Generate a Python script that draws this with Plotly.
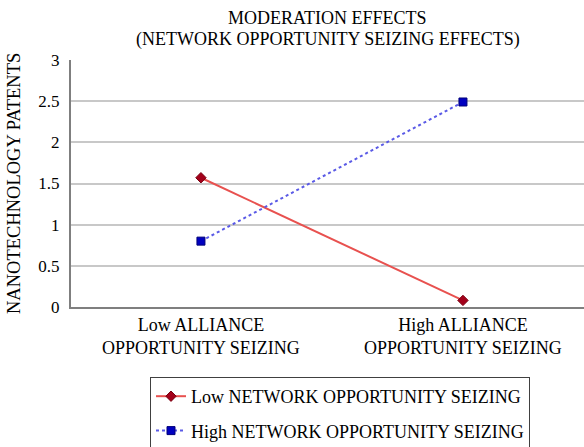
import plotly.graph_objects as go

categories = ["Low ALLIANCE<br>OPPORTUNITY SEIZING", "High ALLIANCE<br>OPPORTUNITY SEIZING"]
low_network = [1.57, 0.08]
high_network = [0.80, 2.49]
series_names = ["Low NETWORK OPPORTUNITY SEIZING", "High NETWORK OPPORTUNITY SEIZING"]
y_ticks = [0, 0.5, 1, 1.5, 2, 2.5, 3]
y_tick_labels = ["0", "0.5", "1", "1.5", "2", "2.5", "3"]
title_lines = ["MODERATION EFFECTS", "(NETWORK OPPORTUNITY SEIZING EFFECTS)"]
y_title = "NANOTECHNOLOGY PATENTS"

FONT = "'Times New Roman', 'Liberation Serif', serif"
L, T, PW, PH = 71, 60, 513, 247

fig = go.Figure()
xs = [0, 1]
fig.add_trace(go.Scatter(
    x=xs, y=low_network, name=series_names[0], mode="lines+markers", legendgroup="a",
    line=dict(color="#e8514f", width=2),
    marker=dict(symbol="diamond", size=8, color="#a3001a", line=dict(color="#7a0010", width=1)),
))
fig.add_trace(go.Scatter(
    x=xs, y=high_network, name=series_names[1], mode="lines+markers", legendgroup="b",
    line=dict(color="#5a5ae6", width=2, dash="dot"),
    marker=dict(symbol="square", size=8, color="#0000c0", line=dict(color="#00007a", width=1)),
))

fig.update_layout(
    width=584, height=447,
    margin=dict(l=L, r=584 - L - PW, t=T, b=447 - T - PH, autoexpand=False),
    paper_bgcolor="white", plot_bgcolor="white",
    font=dict(family=FONT, size=17, color="black"),
    xaxis=dict(
        range=[-0.496, 1.462], tickvals=xs, ticktext=categories,
        showgrid=False, zeroline=False, showline=True, linecolor="#7f7f7f", linewidth=2,
        ticks="", tickfont=dict(family=FONT, size=18), fixedrange=True, automargin=False,
    ),
    yaxis=dict(
        range=[0, 3], tickvals=y_ticks, ticktext=y_tick_labels,
        showgrid=True, gridcolor="#c8c8c8", gridwidth=2, zeroline=False,
        showline=True, linecolor="#7f7f7f", linewidth=2, ticks="",
        tickfont=dict(family=FONT, size=17), automargin=False, fixedrange=True,
        ticklabelstandoff=6,
    ),
    legend=dict(
        x=(150 - L) / PW, xanchor="left", y=(T + PH - 377) / PH, yanchor="top",
        bordercolor="#404040", borderwidth=1, bgcolor="white",
        font=dict(family=FONT, size=18, color="black"),
        tracegroupgap=8,
    ),
    showlegend=True,
)

for text, yc in zip(title_lines, [18, 40]):
    fig.add_annotation(
        text=text, xref="paper", yref="paper", x=0.5, xanchor="center",
        y=1 + (T - yc) / PH, yanchor="middle", showarrow=False,
        font=dict(family=FONT, size=18, color="black"),
    )

fig.add_annotation(
    text=y_title, textangle=-90, xref="paper", yref="paper",
    x=-57 / PW, xanchor="center", y=(T + PH - 184) / PH, yanchor="middle",
    showarrow=False, font=dict(family=FONT, size=18.5, color="black"),
)

fig.write_html("out.html", config={"displayModeBar": False},
               post_script="document.body.style.margin='0';document.body.style.overflow='hidden';")
